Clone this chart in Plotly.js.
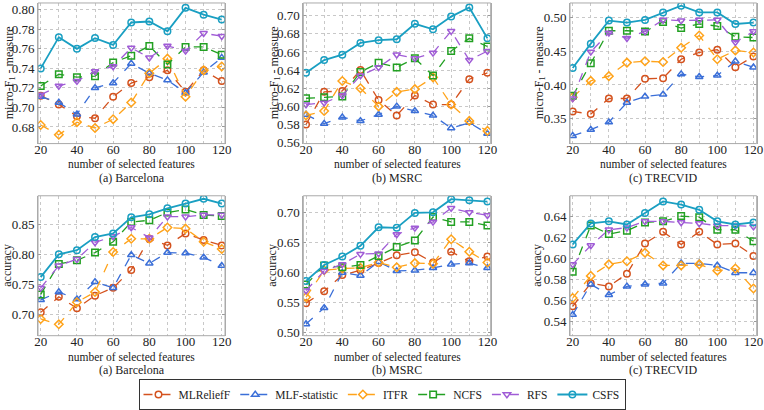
<!DOCTYPE html>
<html>
<head>
<meta charset="utf-8">
<script src="https://cdn.plot.ly/plotly-3.0.1.min.js"></script>
<style>html,body{margin:0;padding:0;background:#fff;}#chart{width:764px;height:410px;}</style>
</head>
<body>
<div id="chart"></div>
<script>
const features = [20, 30, 40, 50, 60, 70, 80, 90, 100, 110, 120];
const methods = ["MLReliefF", "MLF-statistic", "ITFR", "NCFS", "RFS", "CSFS"];
const datasetLabels = ["(a) Barcelona", "(b) MSRC", "(c) TRECVID"];

// Barcelona micro-F1
const barF1_MLReliefF = [0.712, 0.703, 0.691, 0.689, 0.711, 0.725, 0.731, 0.738, 0.716, 0.738, 0.727];
const barF1_MLF       = [0.711, 0.705, 0.693, 0.720, 0.725, 0.745, 0.735, 0.728, 0.715, 0.736, 0.751];
const barF1_ITFR      = [0.682, 0.672, 0.685, 0.679, 0.688, 0.705, 0.735, 0.750, 0.711, 0.738, 0.742];
const barF1_NCFS      = [0.722, 0.734, 0.731, 0.732, 0.746, 0.753, 0.763, 0.744, 0.762, 0.762, 0.754];
const barF1_RFS       = [0.713, 0.722, 0.727, 0.737, 0.742, 0.761, 0.751, 0.763, 0.758, 0.776, 0.773];
const barF1_CSFS      = [0.740, 0.772, 0.760, 0.771, 0.764, 0.787, 0.788, 0.778, 0.802, 0.795, 0.790];

// MSRC micro-F1
const msrcF1_MLReliefF = [0.580, 0.616, 0.617, 0.640, 0.607, 0.590, 0.612, 0.602, 0.602, 0.630, 0.637];
const msrcF1_MLF       = [0.591, 0.581, 0.588, 0.584, 0.591, 0.600, 0.595, 0.590, 0.576, 0.582, 0.570];
const msrcF1_ITFR      = [0.590, 0.595, 0.628, 0.620, 0.600, 0.616, 0.619, 0.632, 0.602, 0.584, 0.573];
const msrcF1_NCFS      = [0.609, 0.610, 0.611, 0.638, 0.648, 0.643, 0.653, 0.634, 0.661, 0.675, 0.666];
const msrcF1_RFS       = [0.602, 0.604, 0.612, 0.634, 0.643, 0.657, 0.653, 0.659, 0.683, 0.651, 0.661];
const msrcF1_CSFS      = [0.637, 0.651, 0.657, 0.670, 0.673, 0.674, 0.691, 0.685, 0.699, 0.709, 0.675];

// TRECVID micro-F1
const trecF1_MLReliefF = [0.361, 0.357, 0.380, 0.380, 0.409, 0.410, 0.438, 0.448, 0.452, 0.426, 0.442];
const trecF1_MLF       = [0.325, 0.334, 0.345, 0.374, 0.383, 0.386, 0.416, 0.412, 0.414, 0.435, 0.426];
const trecF1_ITFR      = [0.382, 0.406, 0.413, 0.433, 0.435, 0.434, 0.455, 0.473, 0.438, 0.451, 0.448];
const trecF1_NCFS      = [0.384, 0.432, 0.480, 0.480, 0.479, 0.493, 0.484, 0.490, 0.487, 0.471, 0.470];
const trecF1_RFS       = [0.380, 0.449, 0.477, 0.469, 0.479, 0.496, 0.495, 0.496, 0.496, 0.463, 0.479];
const trecF1_CSFS      = [0.425, 0.461, 0.495, 0.492, 0.496, 0.507, 0.517, 0.507, 0.507, 0.490, 0.492];

// Barcelona accuracy
const barAcc_MLReliefF = [0.703, 0.729, 0.710, 0.731, 0.744, 0.774, 0.826, 0.815, 0.835, 0.824, 0.815];
const barAcc_MLF       = [0.724, 0.737, 0.725, 0.754, 0.744, 0.799, 0.785, 0.803, 0.802, 0.795, 0.781];
const barAcc_ITFR      = [0.692, 0.683, 0.720, 0.737, 0.804, 0.826, 0.826, 0.845, 0.843, 0.821, 0.809];
const barAcc_NCFS      = [0.733, 0.784, 0.790, 0.803, 0.821, 0.854, 0.857, 0.870, 0.875, 0.866, 0.864];
const barAcc_RFS       = [0.744, 0.781, 0.792, 0.820, 0.830, 0.845, 0.828, 0.863, 0.863, 0.866, 0.866];
const barAcc_CSFS      = [0.762, 0.800, 0.807, 0.829, 0.835, 0.862, 0.867, 0.877, 0.885, 0.893, 0.885];

// MSRC accuracy
const msrcAcc_MLReliefF = [0.549, 0.569, 0.596, 0.604, 0.616, 0.629, 0.634, 0.617, 0.635, 0.619, 0.627];
const msrcAcc_MLF       = [0.514, 0.541, 0.600, 0.595, 0.618, 0.603, 0.604, 0.608, 0.614, 0.616, 0.608];
const msrcAcc_ITFR      = [0.559, 0.604, 0.607, 0.608, 0.617, 0.609, 0.616, 0.615, 0.656, 0.635, 0.617];
const msrcAcc_NCFS      = [0.580, 0.612, 0.609, 0.613, 0.628, 0.643, 0.654, 0.693, 0.685, 0.685, 0.679];
const msrcAcc_RFS       = [0.570, 0.603, 0.614, 0.631, 0.632, 0.664, 0.675, 0.685, 0.708, 0.701, 0.696];
const msrcAcc_CSFS      = [0.586, 0.613, 0.627, 0.645, 0.676, 0.675, 0.700, 0.701, 0.723, 0.721, 0.719];

// TRECVID accuracy
const trecAcc_MLReliefF = [0.554, 0.576, 0.573, 0.585, 0.614, 0.625, 0.613, 0.625, 0.613, 0.614, 0.602];
const trecAcc_MLF       = [0.546, 0.575, 0.565, 0.573, 0.575, 0.576, 0.595, 0.595, 0.593, 0.586, 0.586];
const trecAcc_ITFR      = [0.562, 0.583, 0.594, 0.597, 0.605, 0.593, 0.593, 0.594, 0.588, 0.590, 0.571];
const trecAcc_NCFS      = [0.587, 0.631, 0.623, 0.626, 0.634, 0.635, 0.640, 0.639, 0.627, 0.627, 0.616];
const trecAcc_RFS       = [0.594, 0.612, 0.627, 0.629, 0.635, 0.635, 0.634, 0.633, 0.631, 0.631, 0.630];
const trecAcc_CSFS      = [0.613, 0.633, 0.635, 0.632, 0.643, 0.654, 0.651, 0.646, 0.635, 0.632, 0.634];

const xTickVals = [20, 40, 60, 80, 100, 120];
const xTickText = ["20", "40", "60", "80", "100", "120"];

const panels = [
  {series: [barF1_MLReliefF, barF1_MLF, barF1_ITFR, barF1_NCFS, barF1_RFS, barF1_CSFS], yr: [0.663, 0.807], dt: 0.02, fmt: ".2f", title: "micro-F<sub>1</sub> - measure"},
  {series: [msrcF1_MLReliefF, msrcF1_MLF, msrcF1_ITFR, msrcF1_NCFS, msrcF1_RFS, msrcF1_CSFS], yr: [0.559, 0.714], dt: 0.02, fmt: ".2f", title: "micro-F<sub>1</sub> - measure"},
  {series: [trecF1_MLReliefF, trecF1_MLF, trecF1_ITFR, trecF1_NCFS, trecF1_RFS, trecF1_CSFS], yr: [0.3135, 0.521], dt: 0.05, fmt: ".2f", title: "micro-F<sub>1</sub> - measure"},
  {series: [barAcc_MLReliefF, barAcc_MLF, barAcc_ITFR, barAcc_NCFS, barAcc_RFS, barAcc_CSFS], yr: [0.664, 0.898], dt: 0.05, fmt: ".2f", title: "accuracy"},
  {series: [msrcAcc_MLReliefF, msrcAcc_MLF, msrcAcc_ITFR, msrcAcc_NCFS, msrcAcc_RFS, msrcAcc_CSFS], yr: [0.4945, 0.7287], dt: 0.05, fmt: ".2f", title: "accuracy"},
  {series: [trecAcc_MLReliefF, trecAcc_MLF, trecAcc_ITFR, trecAcc_NCFS, trecAcc_RFS, trecAcc_CSFS], yr: [0.526, 0.6594], dt: 0.02, fmt: ".2f", title: "accuracy"}
];

const colors = ["#D4521E", "#3B6FD8", "#FFA31A", "#22A022", "#A05CD6", "#1A9FC2"];
const symbols = ["circle-open", "triangle-up-open", "diamond-open", "square-open", "triangle-down-open", "circle-open"];
const dashes = ["dash", "dash", "dash", "dash", "dash", "solid"];

const W = 764, H = 410;
const colPx = [[38, 225], [303.3, 490.7], [570, 756.7]];
const rowPx = [[3, 145], [197.7, 339]];
const LABEL_LIFT = 4; // px: x tick labels sit closer to the frame than Plotly's default

const FONT = "Liberation Serif";
const data = [];
const layout = {
  width: W, height: H,
  margin: {l: 0, r: 0, t: 0, b: 0},
  paper_bgcolor: "#fff", plot_bgcolor: "#fff",
  font: {family: FONT, size: 12, color: "#222"},
  showlegend: true,
  legend: {
    orientation: "h", x: 0.5, xanchor: "center", y: 1 - 383 / H, yanchor: "top",
    bordercolor: "#333", borderwidth: 1, font: {family: FONT, size: 11.5, color: "#222"},
    itemwidth: 30, tracegroupgap: 0
  },
  annotations: [],
  shapes: []
};

panels.forEach((p, i) => {
  const r = Math.floor(i / 3), c = i % 3;
  const k = i + 1;
  const xa = "xaxis" + (k === 1 ? "" : k), ya = "yaxis" + (k === 1 ? "" : k);
  const xr = "x" + (k === 1 ? "" : k), yr = "y" + (k === 1 ? "" : k);
  layout[xa] = {
    domain: [colPx[c][0] / W, colPx[c][1] / W], anchor: "free",
    position: 1 - (rowPx[r][1] - LABEL_LIFT) / H,
    range: [18.5, 121.8], tickvals: xTickVals, ticktext: xTickText,
    showgrid: true, gridcolor: "#c8c8c8", griddash: "dot", gridwidth: 1,
    minor: {dtick: 10, tick0: 0, showgrid: true, gridcolor: "#c8c8c8", griddash: "dot"},
    ticks: "", showline: false,
    zeroline: false, tickfont: {family: FONT, size: 13, color: "#222"}
  };
  layout[ya] = {
    domain: [1 - rowPx[r][1] / H, 1 - rowPx[r][0] / H], anchor: xr,
    range: p.yr, dtick: p.dt, tick0: 0, tickformat: p.fmt,
    showgrid: true, gridcolor: "#c8c8c8", griddash: "dot", gridwidth: 1,
    ticks: "inside", ticklen: 3, tickcolor: "#999",
    showline: true, linecolor: "#aaa", linewidth: 1, mirror: "ticks",
    zeroline: false, tickfont: {family: FONT, size: 13, color: "#222"}
  };
  layout.shapes.push({
    type: "rect", xref: xr + " domain", yref: yr + " domain", x0: 0, x1: 1, y0: 0, y1: 1,
    line: {color: "#aaa", width: 1}, fillcolor: "rgba(0,0,0,0)", layer: "above"
  });
  p.series.forEach((vals, j) => {
    data.push({
      type: "scatter", mode: "lines+markers",
      x: features, y: vals, xaxis: xr, yaxis: yr,
      name: methods[j], legendgroup: methods[j], showlegend: i === 0,
      line: {color: colors[j], width: j === 5 ? 1.8 : 1.3, dash: dashes[j]},
      marker: {symbol: symbols[j], size: 6.5, color: colors[j], line: {width: 1.5, color: colors[j]}}
    });
  });
  const cx = (colPx[c][0] + colPx[c][1]) / 2 / W;
  const yTitlePx = r === 0 ? 165.5 : 360.5;
  const yLabelPx = r === 0 ? 180 : 374;
  layout.annotations.push({
    xref: "paper", yref: "paper", x: cx, y: 1 - yTitlePx / H, xanchor: "center", yanchor: "middle",
    text: "number of selected features", showarrow: false, font: {family: FONT, size: 11.5, color: "#222"}
  });
  layout.annotations.push({
    xref: "paper", yref: "paper", x: cx, y: 1 - yLabelPx / H, xanchor: "center", yanchor: "middle",
    text: datasetLabels[c], showarrow: false, font: {family: FONT, size: 12, color: "#222"}
  });
  const ytx = r === 0 ? [10, 275, 540][c] : [7, 272, 537][c];
  layout.annotations.push({
    xref: "paper", yref: "paper", x: ytx / W, y: 1 - ((rowPx[r][0] + rowPx[r][1]) / 2) / H,
    xanchor: "center", yanchor: "middle", textangle: -90,
    text: p.title, showarrow: false, font: {family: FONT, size: 12, color: "#222"}
  });
});

Plotly.newPlot("chart", data, layout, {staticPlot: true, displayModeBar: false});
</script>
</body>
</html>
